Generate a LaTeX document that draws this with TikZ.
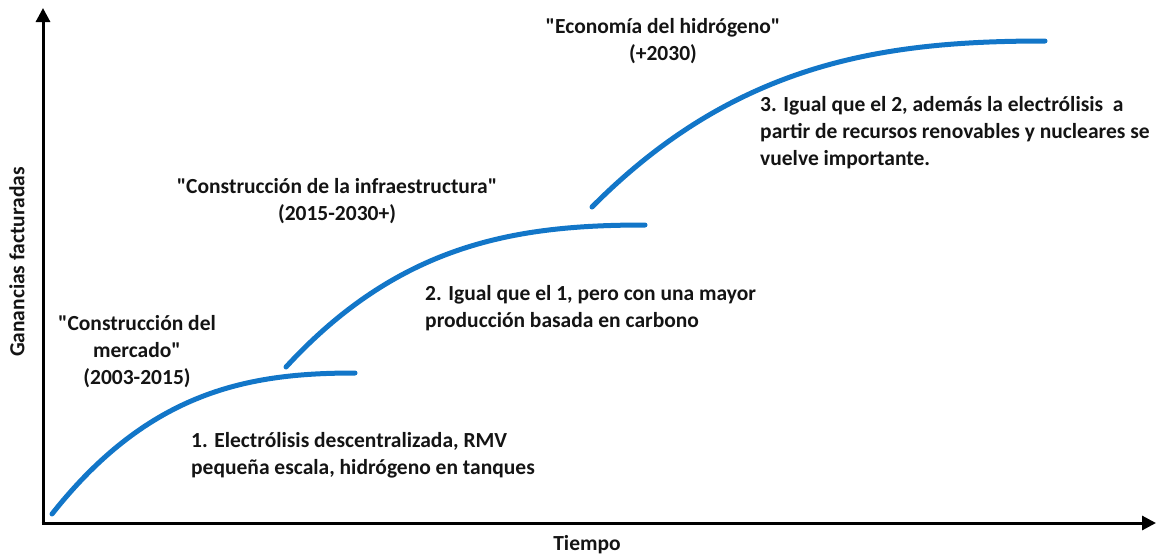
\documentclass[tikz,border=0pt]{standalone}
\usepackage{fontspec}
\setmainfont{Carlito}[Ligatures=TeXOff]
\usetikzlibrary{arrows.meta}
\definecolor{curveblue}{RGB}{18,118,200}
\definecolor{txt}{RGB}{20,20,20}
\tikzset{
  axis/.style={line width=3pt, black, -{Triangle[length=14pt,width=14pt]}},
  growth/.style={line width=5pt, curveblue, line cap=round},
  lbl/.style={font=\fontsize{21.5}{27}\selectfont\bfseries, text=txt, inner sep=0pt, align=center},
  desc/.style={font=\fontsize{21.5}{27}\selectfont\bfseries, text=txt, inner sep=0pt, align=left, anchor=west},
}
\begin{document}
\begin{tikzpicture}[x=1pt,y=-1pt]
\useasboundingbox (0,0) rectangle (1156,557);
% axes
\coordinate (O) at (43,523);
\coordinate (ytip) at (43,8);
\coordinate (xtip) at (1156,523);
\coordinate (Olow) at (43,524.5);
\coordinate (Oleft) at (41.5,523);
\draw[axis] (Olow) -- (ytip);
\draw[axis] (Oleft) -- (xtip);
% curves
\coordinate (c1s) at (52,514);
\coordinate (c1e) at (355,373);
\coordinate (c2s) at (286,367);
\coordinate (c2e) at (645,225);
\coordinate (c3s) at (592,207);
\coordinate (c3e) at (1045,41);
\draw[growth] (c1s) .. controls (150,390) and (250,373) .. (c1e);
\draw[growth] (c2s) .. controls (401,242) and (519,225) .. (c2e);
\draw[growth] (c3s) .. controls (737,61) and (886,41) .. (c3e);
% axis labels
\node[lbl, rotate=90] (ylab) at (17,262) {Ganancias facturadas};
\node[lbl] (xlab) at (587,545) {Tiempo};
% phase labels
\node[lbl] (p1) at (137,352) {"Construcción del\\mercado"\\(2003-2015)};
\node[lbl] (p2) at (337,201.5) {"Construcción de la infraestructura"\\(2015-2030+)};
\node[lbl] (p3) at (663,41.5) {"Economía del hidrógeno"\\(+2030)};
% descriptions
\node[desc] (d1) at (191,455) {1. Electrólisis descentralizada, RMV\\pequeña escala, hidrógeno en tanques};
\node[desc] (d2) at (425,308.5) {2. Igual que el 1, pero con una mayor\\producción basada en carbono};
\node[desc] (d3) at (760,133) {3. Igual que el 2, además la electrólisis\ \ a\\partir de recursos renovables y nucleares se\\vuelve importante.};
\end{tikzpicture}
\end{document}
